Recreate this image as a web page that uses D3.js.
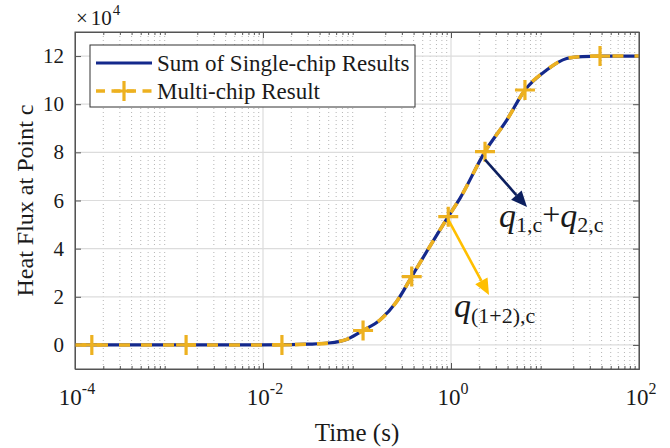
<!DOCTYPE html>
<html>
<head>
<meta charset="utf-8">
<script src="https://cdn.jsdelivr.net/npm/d3@7"></script>
<style>
  html, body { margin: 0; padding: 0; background: #fff; }
</style>
</head>
<body>
<svg id="chart" width="670" height="448" font-family="'Liberation Serif', 'Times New Roman', Tinos, 'DejaVu Serif', serif"></svg>
<script>
// Heat flux at point c versus time (log scale)
const timeS      = [1e-4, 1e-3, 1e-2, 0.02, 0.03, 0.05, 0.08, 0.116, 0.176, 0.264, 0.382, 0.55, 0.935, 1.25, 2.30, 3.92, 6.12, 10.4, 17, 25, 38.5, 100];
const sumFlux    = [0, 0, 0, 0.01, 0.03, 0.08, 0.25, 0.6, 1.04, 1.80, 2.84, 3.87, 5.33, 6.10, 8.03, 9.34, 10.59, 11.42, 11.90, 11.98, 12.0, 12.0].map(v => v * 1e4);
const multiFlux  = [0, 0, 0, 0.01, 0.03, 0.08, 0.25, 0.6, 1.04, 1.80, 2.84, 3.87, 5.33, 6.10, 8.03, 9.34, 10.59, 11.42, 11.90, 11.98, 12.0, 12.0].map(v => v * 1e4);
const markerTime = [1.51e-4, 1.52e-3, 0.0159, 0.116, 0.382, 0.935, 2.30, 6.12, 38.5];
const markerFlux = [0, 0, 0, 0.6, 2.84, 5.33, 8.03, 10.59, 12.0].map(v => v * 1e4);
const yTicks = [0, 2e4, 4e4, 6e4, 8e4, 10e4, 12e4];
const xTicks = [1e-4, 1e-2, 1e0, 1e2];
const xTickExp = ["-4", "-2", "0", "2"];
const seriesNames = ["Sum of Single-chip Results", "Multi-chip Result"];

const navy = "#14298c", gold = "#edb120";
const arrowNavy = "#0c1f5e", arrowGold = "#ffbf00";
const textColor = "#1a1a1a";

const svg = d3.select("#chart");
const L = 75, R = 639, T = 32, B = 369;
const x = d3.scaleLog().domain([1e-4, 1e2]).range([L, R]);
const y = d3.scaleLinear().domain([-1e4, 13e4]).range([B, T]);

// minor grid (log minor positions)
const minor = [];
for (let e = -4; e < 2; e++) for (let k = 2; k <= 9; k++) minor.push(k * Math.pow(10, e));
svg.append("g").selectAll("line").data(minor).join("line")
  .attr("x1", d => x(d)).attr("x2", d => x(d)).attr("y1", T).attr("y2", B)
  .attr("stroke", "#b5b5b5").attr("stroke-width", 1).attr("stroke-dasharray", "1,3");

// major grid
const g = svg.append("g");
g.selectAll("line.gx").data(xTicks).join("line").attr("class", "gx")
  .attr("x1", d => x(d)).attr("x2", d => x(d)).attr("y1", T).attr("y2", B)
  .attr("stroke", "#dcdcdc").attr("stroke-width", 1.2);
g.selectAll("line.gy").data(yTicks).join("line").attr("class", "gy")
  .attr("x1", L).attr("x2", R).attr("y1", d => y(d)).attr("y2", d => y(d))
  .attr("stroke", "#dcdcdc").attr("stroke-width", 1.2);

// axes with inward ticks
const axColor = "#555";
function styleAxis(sel) {
  sel.selectAll("path.domain").attr("stroke", axColor);
  sel.selectAll(".tick line").attr("stroke", axColor);
  sel.selectAll("text").remove();
}
svg.append("g").attr("transform", `translate(0,${B})`)
  .call(d3.axisBottom(x).tickValues(xTicks).tickSizeInner(-6).tickSizeOuter(0)).call(styleAxis);
svg.append("g").attr("transform", `translate(0,${B})`)
  .call(d3.axisBottom(x).tickValues(minor).tickSizeInner(-3).tickSizeOuter(0)).call(styleAxis);
svg.append("g").attr("transform", `translate(0,${T})`)
  .call(d3.axisTop(x).tickValues(xTicks).tickSizeInner(-6).tickSizeOuter(0)).call(styleAxis);
svg.append("g").attr("transform", `translate(0,${T})`)
  .call(d3.axisTop(x).tickValues(minor).tickSizeInner(-3).tickSizeOuter(0)).call(styleAxis);
svg.append("g").attr("transform", `translate(${L},0)`)
  .call(d3.axisLeft(y).tickValues(yTicks).tickSizeInner(-6).tickSizeOuter(0)).call(styleAxis);
svg.append("g").attr("transform", `translate(${R},0)`)
  .call(d3.axisRight(y).tickValues(yTicks).tickSizeInner(-6).tickSizeOuter(0)).call(styleAxis);

// text layer
const tx = svg.append("g").attr("fill", textColor);

// tick labels
tx.append("g").selectAll("text").data(yTicks).join("text")
  .attr("x", L - 11).attr("y", d => y(d) + 7).attr("text-anchor", "end")
  .attr("font-size", 21).text(d => d / 1e4);
const xl = tx.append("g").selectAll("text").data(xTicks).join("text")
  .attr("x", (d, i) => x(d) + 2).attr("y", 405).attr("text-anchor", "middle").attr("font-size", 23);
xl.append("tspan").text("10");
xl.append("tspan").attr("dy", -11).attr("font-size", 16).text((d, i) => xTickExp[i]);

// exponent multiplier
const mult = tx.append("text").attr("x", 76).attr("y", 25).attr("font-size", 21);
mult.append("tspan").text("\u00d7");
mult.append("tspan").attr("dx", 3).text("10");
mult.append("tspan").attr("dy", -10).attr("dx", 1).attr("font-size", 15).text("4");

// axis labels
tx.append("text").attr("x", (L + R) / 2).attr("y", 441).attr("text-anchor", "middle")
  .attr("font-size", 25).text("Time (s)");
tx.append("text").attr("transform", `translate(33,${(T + B) / 2}) rotate(-90)`)
  .attr("text-anchor", "middle").attr("font-size", 24).text("Heat Flux at Point c");

// curves
svg.append("clipPath").attr("id", "plotclip").append("rect")
  .attr("x", L).attr("y", T).attr("width", R - L).attr("height", B - T);
const line = d3.line().x(d => x(d[0])).y(d => y(d[1])).curve(d3.curveMonotoneX);
const plot = svg.append("g").attr("clip-path", "url(#plotclip)");
plot.append("path").datum(timeS.map((t, i) => [t, sumFlux[i]]))
  .attr("d", line).attr("fill", "none").attr("stroke", navy).attr("stroke-width", 3.2);
plot.append("path").datum(timeS.map((t, i) => [t, multiFlux[i]]))
  .attr("d", line).attr("fill", "none").attr("stroke", gold).attr("stroke-width", 3.6)
  .attr("stroke-dasharray", "11,11");
plot.append("g").selectAll("path").data(markerTime.map((t, i) => [t, markerFlux[i]])).join("path")
  .attr("d", d => {
    const cx = x(d[0]), cy = y(d[1]), s = 10;
    return `M${cx - s},${cy}H${cx + s}M${cx},${cy - s}V${cy + s}`;
  })
  .attr("stroke", gold).attr("stroke-width", 3.2).attr("fill", "none");

// plot border on top
svg.append("rect").attr("x", L).attr("y", T).attr("width", R - L).attr("height", B - T)
  .attr("fill", "none").attr("stroke", axColor).attr("stroke-width", 1);

// annotation arrows
function arrow(x1, y1, x2, y2, color) {
  const ang = Math.atan2(y2 - y1, x2 - x1), len = 16, half = 7;
  const bx = x2 - len * Math.cos(ang), by = y2 - len * Math.sin(ang);
  svg.append("line").attr("x1", x1).attr("y1", y1).attr("x2", bx).attr("y2", by)
    .attr("stroke", color).attr("stroke-width", 2.6);
  const px = -Math.sin(ang) * half, py = Math.cos(ang) * half;
  svg.append("path")
    .attr("d", `M${x2},${y2}L${bx + px},${by + py}L${bx - px},${by - py}Z`)
    .attr("fill", color);
}
arrow(x(2.30), y(8.03e4) + 8, 527, 207, arrowNavy);
arrow(x(0.935), y(5.33e4) + 3, 489, 295, arrowGold);

// annotation labels
const a1 = tx.append("text").attr("x", 499).attr("y", 227).attr("font-size", 34);
a1.append("tspan").attr("font-style", "italic").text("q");
a1.append("tspan").attr("font-size", 22).attr("dy", 5).text("1,c");
a1.append("tspan").attr("font-size", 32).attr("dy", -7).text("+");
a1.append("tspan").attr("font-style", "italic").attr("font-size", 34).attr("dy", 2).text("q");
a1.append("tspan").attr("font-size", 22).attr("dy", 5).text("2,c");

const a2 = tx.append("text").attr("x", 454).attr("y", 317).attr("font-size", 34);
a2.append("tspan").attr("font-style", "italic").text("q");
a2.append("tspan").attr("font-size", 22).attr("dy", 6).text("(1+2),c");

// legend
const lg = svg.append("g");
lg.append("rect").attr("x", 90).attr("y", 45).attr("width", 325).attr("height", 62)
  .attr("fill", "#fff").attr("stroke", "#333").attr("stroke-width", 1);
lg.append("line").attr("x1", 96).attr("x2", 152).attr("y1", 63).attr("y2", 63)
  .attr("stroke", navy).attr("stroke-width", 3.2);
lg.append("line").attr("x1", 96).attr("x2", 152).attr("y1", 91).attr("y2", 91)
  .attr("stroke", gold).attr("stroke-width", 3.6).attr("stroke-dasharray", "9,6.5");
lg.append("path").attr("d", "M114,91H134M124,81V101").attr("stroke", gold).attr("stroke-width", 3.2);
lg.selectAll("text").data(seriesNames).join("text")
  .attr("x", 157).attr("y", (d, i) => 71 + i * 28).attr("font-size", 23).attr("fill", textColor).text(d => d);
</script>
</body>
</html>
